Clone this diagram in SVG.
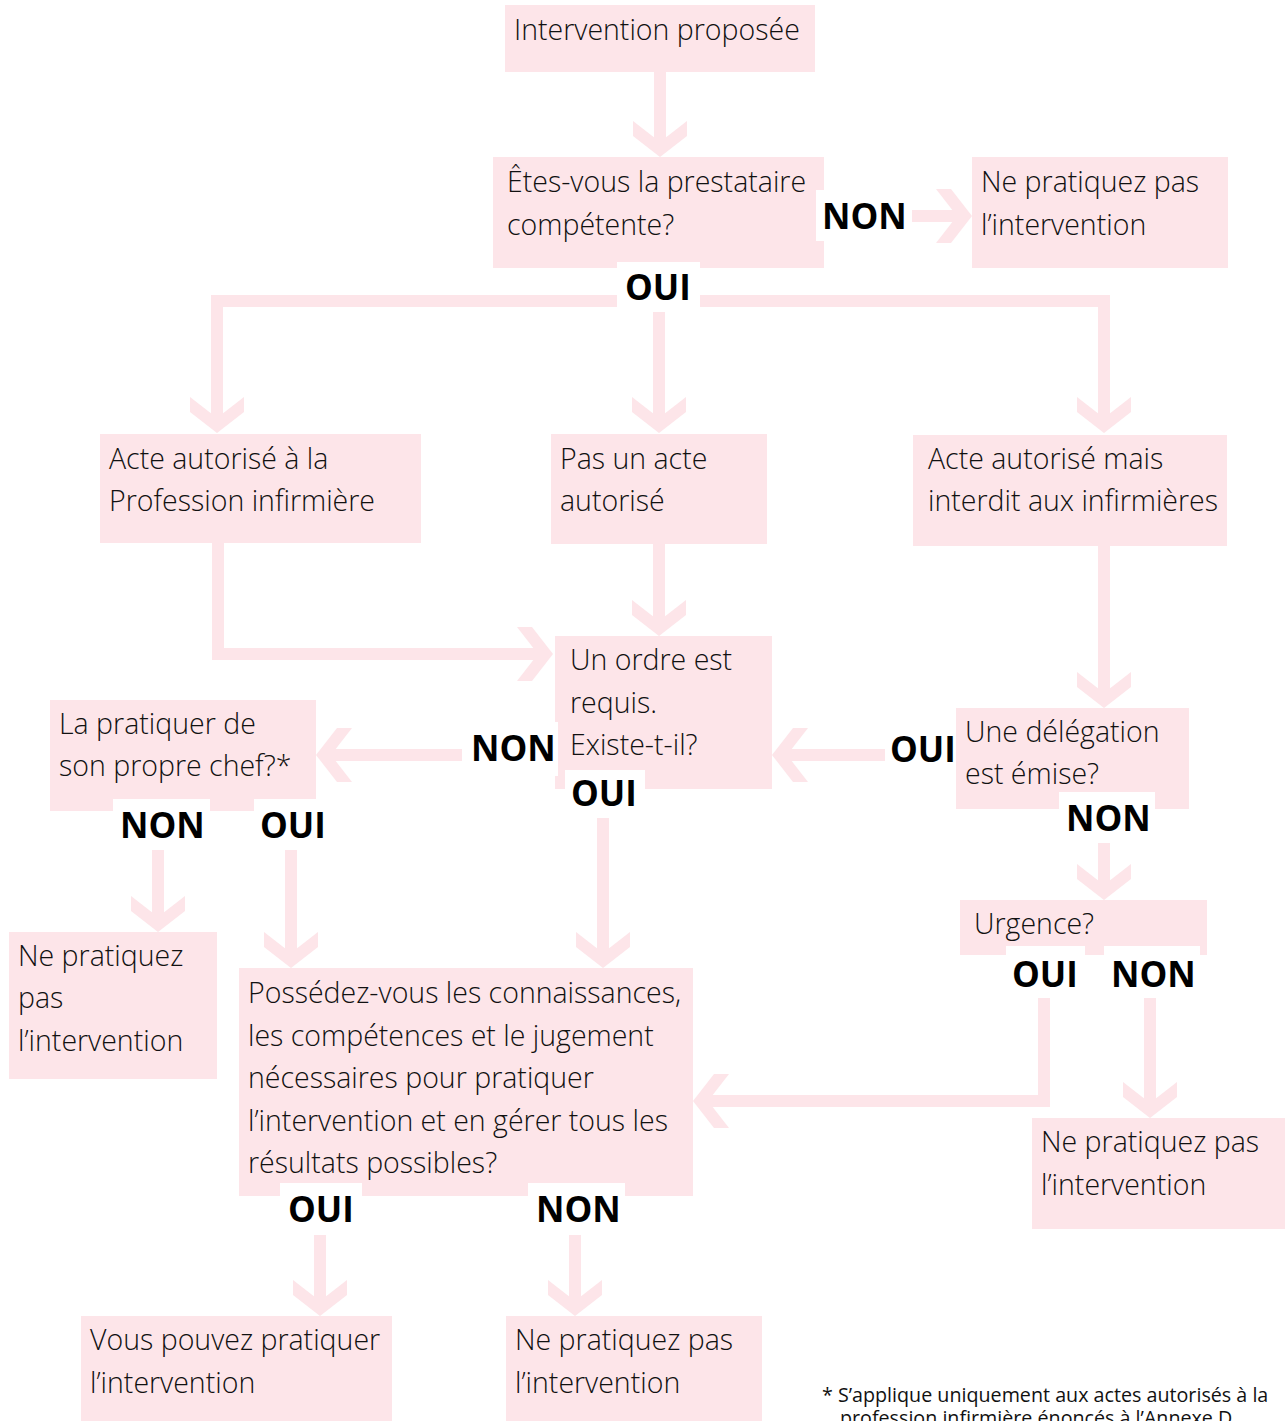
<svg xmlns="http://www.w3.org/2000/svg" width="1285" height="1421" viewBox="0 0 1285 1421">
<style>
.box{fill:#fde5e9}
.t{font-family:"Open Sans","Noto Sans",sans-serif;font-weight:300;font-size:28.5px;fill:#111}
.lb{font-family:"Open Sans","Noto Sans",sans-serif;font-weight:700;font-size:35px;fill:#000}
.bg{fill:#fff}
.c{fill:none;stroke:#fde5e9;stroke-width:12;stroke-linejoin:miter}
.ah{fill:#fde5e9}
.fn{font-family:"Open Sans","Noto Sans",sans-serif;font-size:19.7px;fill:#111}
</style>
<defs>
<path id="ah" d="M-27,-36 L0,-15 L27,-36 L27,-21 L0,0 L-27,-21 Z"/>
</defs>
<rect width="1285" height="1421" fill="#fff"/>
<g id="n1"><rect class="box" x="505" y="5" width="310" height="67"/><text class="t" x="514" y="40">Intervention proposée</text></g>
<g id="n2"><rect class="box" x="493" y="157" width="331" height="111"/><text class="t" x="507" y="192">Êtes-vous la prestataire</text><text class="t" x="507" y="235">compétente?</text></g>
<g id="n3"><rect class="box" x="972" y="157" width="256" height="111"/><text class="t" x="981" y="192">Ne pratiquez pas</text><text class="t" x="981" y="235">l’intervention</text></g>
<g id="n4"><rect class="box" x="100" y="434" width="321" height="109"/><text class="t" x="109" y="469">Acte autorisé à la</text><text class="t" x="109" y="511">Profession infirmière</text></g>
<g id="n5"><rect class="box" x="551" y="434" width="216" height="110"/><text class="t" x="560" y="469">Pas un acte</text><text class="t" x="560" y="511">autorisé</text></g>
<g id="n6"><rect class="box" x="913" y="435" width="314" height="111"/><text class="t" x="928" y="469">Acte autorisé mais</text><text class="t" x="928" y="511">interdit aux infirmières</text></g>
<g id="n7"><rect class="box" x="555" y="636" width="217" height="153"/><text class="t" x="570" y="670">Un ordre est</text><text class="t" x="570" y="713">requis.</text><text class="t" x="570" y="755">Existe-t-il?</text></g>
<g id="n8"><rect class="box" x="50" y="700" width="266" height="111"/><text class="t" x="59" y="734">La pratiquer de</text><text class="t" x="59" y="776">son propre chef?*</text></g>
<g id="n9"><rect class="box" x="956" y="708" width="233" height="101"/><text class="t" x="965" y="742">Une délégation</text><text class="t" x="965" y="784">est émise?</text></g>
<g id="n10"><rect class="box" x="960" y="900" width="247" height="55"/><text class="t" x="974" y="934">Urgence?</text></g>
<g id="n11"><rect class="box" x="9" y="932" width="208" height="147"/><text class="t" x="18" y="966">Ne pratiquez</text><text class="t" x="18" y="1008">pas</text><text class="t" x="18" y="1051">l’intervention</text></g>
<g id="n12"><rect class="box" x="239" y="968" width="454" height="228"/><text class="t" x="248" y="1003">Possédez-vous les connaissances,</text><text class="t" x="248" y="1046">les compétences et le jugement</text><text class="t" x="248" y="1088">nécessaires pour pratiquer</text><text class="t" x="248" y="1131">l’intervention et en gérer tous les</text><text class="t" x="248" y="1173">résultats possibles?</text></g>
<g id="n13"><rect class="box" x="1032" y="1118" width="253" height="111"/><text class="t" x="1041" y="1152">Ne pratiquez pas</text><text class="t" x="1041" y="1195">l’intervention</text></g>
<g id="n14"><rect class="box" x="81" y="1316" width="311" height="105"/><text class="t" x="90" y="1350">Vous pouvez pratiquer</text><text class="t" x="90" y="1393">l’intervention</text></g>
<g id="n15"><rect class="box" x="506" y="1316" width="256" height="105"/><text class="t" x="515" y="1350">Ne pratiquez pas</text><text class="t" x="515" y="1393">l’intervention</text></g>
<g id="connectors">
<path class="c" d="M660,72 V145"/><use href="#ah" class="ah" transform="translate(660,157)"/>
<path class="c" d="M912,216 H962"/><use href="#ah" class="ah" transform="translate(972,216) rotate(-90)"/>
<path class="c" d="M617,301 H217 V421"/><use href="#ah" class="ah" transform="translate(217,433)"/>
<path class="c" d="M700,301 H1104 V421"/><use href="#ah" class="ah" transform="translate(1104,433)"/>
<path class="c" d="M659,312 V421"/><use href="#ah" class="ah" transform="translate(659,433)"/>
<path class="c" d="M218,543 V654 H541"/><use href="#ah" class="ah" transform="translate(553,654) rotate(-90)"/>
<path class="c" d="M659,544 V624"/><use href="#ah" class="ah" transform="translate(659,636)"/>
<path class="c" d="M1104,546 V696"/><use href="#ah" class="ah" transform="translate(1104,708)"/>
<path class="c" d="M462,755 H328"/><use href="#ah" class="ah" transform="translate(316,755) rotate(90)"/>
<path class="c" d="M885,755 H784"/><use href="#ah" class="ah" transform="translate(772,755) rotate(90)"/>
<path class="c" d="M158,850 V920"/><use href="#ah" class="ah" transform="translate(158,932)"/>
<path class="c" d="M291,850 V956"/><use href="#ah" class="ah" transform="translate(291,968)"/>
<path class="c" d="M603,818 V956"/><use href="#ah" class="ah" transform="translate(603,968)"/>
<path class="c" d="M1104,843 V888"/><use href="#ah" class="ah" transform="translate(1104,900)"/>
<path class="c" d="M1044,998 V1101 H705"/><use href="#ah" class="ah" transform="translate(693,1101) rotate(90)"/>
<path class="c" d="M1150,998 V1106"/><use href="#ah" class="ah" transform="translate(1150,1118)"/>
<path class="c" d="M320,1235 V1304"/><use href="#ah" class="ah" transform="translate(320,1316)"/>
<path class="c" d="M575,1235 V1304"/><use href="#ah" class="ah" transform="translate(575,1316)"/>
</g>
<g id="labels">
<rect class="bg" x="816" y="190" width="96" height="51"/><text class="lb" x="822" y="229">NON</text>
<rect class="bg" x="617" y="262" width="83" height="50"/><text class="lb" x="625" y="300">OUI</text>
<rect class="bg" x="462" y="722" width="96" height="54"/><text class="lb" x="471" y="761">NON</text>
<rect class="bg" x="565" y="770" width="80" height="48"/><text class="lb" x="571" y="806">OUI</text>
<rect class="bg" x="885" y="728" width="71" height="47"/><text class="lb" x="890" y="762">OUI</text>
<rect class="bg" x="1059" y="792" width="96" height="51"/><text class="lb" x="1066" y="831">NON</text>
<rect class="bg" x="113" y="799" width="97" height="51"/><text class="lb" x="120" y="838">NON</text>
<rect class="bg" x="254" y="799" width="81" height="51"/><text class="lb" x="260" y="838">OUI</text>
<rect class="bg" x="1006" y="946" width="79" height="52"/><text class="lb" x="1012" y="987">OUI</text>
<rect class="bg" x="1104" y="946" width="96" height="52"/><text class="lb" x="1111" y="987">NON</text>
<rect class="bg" x="280" y="1183" width="82" height="52"/><text class="lb" x="288" y="1222">OUI</text>
<rect class="bg" x="528" y="1183" width="97" height="52"/><text class="lb" x="536" y="1222">NON</text>
</g>
<g id="footnote">
<text class="fn" x="822" y="1402">* S’applique uniquement aux actes autorisés à la</text>
<text class="fn" x="840" y="1425">profession infirmière énoncés à l’Annexe D.</text>
</g>
</svg>
